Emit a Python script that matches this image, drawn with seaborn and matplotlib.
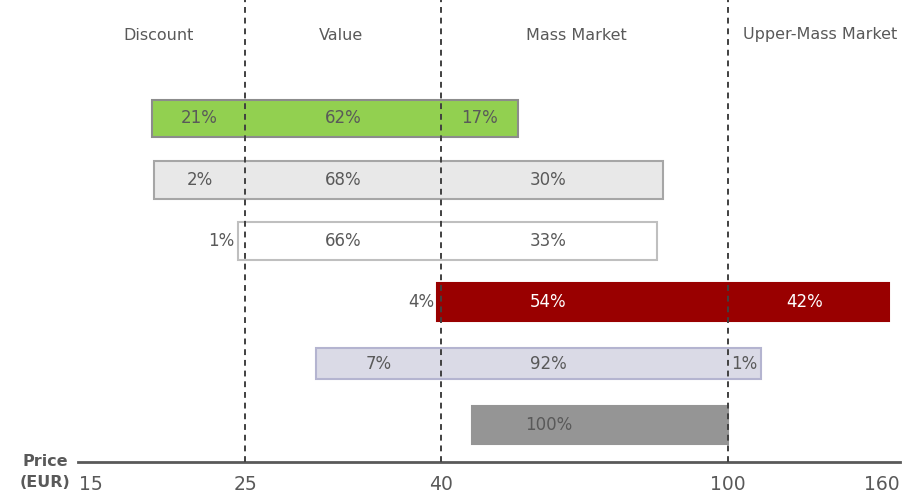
import numpy as np
import matplotlib
matplotlib.use("Agg")
import matplotlib.pyplot as plt
import matplotlib.transforms as mtransforms
import seaborn as sns

# price bands
band_names = ["Discount", "Value", "Mass Market", "Upper-Mass Market"]
band_edges = [15, 25, 40, 100, 160]
tick_labels = ["15", "25", "40", "100", "160"]

# price range of each bar (EUR), top to bottom
bar_start = [19.0, 19.1, 24.5, 39.7, 30.4, 46.5]
bar_end = [56.1, 86.4, 85.2, 162.7, 112.9, 100.0]

# share of each bar falling in each band (%)
discount_share = [21, 2, 1, np.nan, np.nan, np.nan]
value_share = [62, 68, 66, 4, 7, np.nan]
mass_share = [17, 30, 33, 54, 92, 100]
upper_share = [np.nan, np.nan, np.nan, 42, 1, np.nan]

bar_fill = ["#92d050", "#e8e8e8", "#ffffff", "#990000", "#dadae6", "#959595"]
bar_edge = ["#8c8c8c", "#a6a6a6", "#bfbfbf", "#990000", "#b4b4d0", "#959595"]
text_col = ["#595959", "#595959", "#595959", "#ffffff", "#595959", "#595959"]

# the axis is not linear: widths of the price bands on the page
band_pos = [0, 155, 351, 638, 792]


def _pw(x, src, dst):
    x = np.asarray(x, dtype=float)
    y = np.interp(x, src, dst)
    lo = dst[0] + (x - src[0]) * (dst[1] - dst[0]) / (src[1] - src[0])
    hi = dst[-1] + (x - src[-1]) * (dst[-1] - dst[-2]) / (src[-1] - src[-2])
    y = np.where(x < src[0], lo, y)
    y = np.where(x > src[-1], hi, y)
    return y


def fwd(x):
    return _pw(x, band_edges, band_pos)


def inv(x):
    return _pw(x, band_pos, band_edges)


sns.set_style("white")
plt.rcParams["font.family"] = ["DejaVu Sans"]

fig = plt.figure(figsize=(9.17, 4.93), dpi=100)
ax = fig.add_axes([78 / 917, 31 / 493, 822 / 917, 462 / 493])
ax.set_xscale("function", functions=(fwd, inv))
ax.set_xlim(14.2, 167)
ax.set_ylim(5.607, -1.934)

rows = np.arange(len(bar_start))
heights = [0.6, 0.62, 0.63, 0.62, 0.52, 0.62]
ax.barh(rows, np.array(bar_end) - np.array(bar_start), left=bar_start,
        height=heights, color=bar_fill, edgecolor=bar_edge, linewidth=1.5, zorder=2)

# segment labels
shares = [discount_share, value_share, mass_share, upper_share]
mass_anchor = 62.4
for i in rows:
    for b in range(4):
        val = shares[b][i]
        if np.isnan(val):
            continue
        lo = max(band_edges[b], bar_start[i])
        hi = min(band_edges[b + 1], bar_end[i])
        w = float(fwd(hi) - fwd(lo))
        if w < 15:
            x = inv(fwd(bar_start[i]) - 3)
            ax.text(x, i, f"{val:.0f}%", ha="right", va="center",
                    fontsize=12, color="#595959", zorder=4)
            continue
        mid = (fwd(lo) + fwd(hi)) / 2
        if b == 2:
            mid = min(mid, fwd(mass_anchor))
        ax.text(inv(mid), i, f"{val:.0f}%", ha="center", va="center",
                fontsize=12, color=text_col[i], zorder=4)

# band borders
for e in band_edges[1:4]:
    ax.axvline(e, color="#404040", linestyle=(0, (3, 2.5)), linewidth=1.4, zorder=3)

# band names on top
trans = mtransforms.blended_transform_factory(ax.transData, ax.transAxes)
name_x = [19.4, 32.3, 68.2, 135.8]
for nm, x in zip(band_names, name_x):
    ax.text(x, 1 - 35 / 462, nm, transform=trans, ha="center", va="center",
            fontsize=11.5, color="#595959")

sns.despine(ax=ax, left=True, top=True, right=True)
ax.spines["bottom"].set_color("#595959")
ax.spines["bottom"].set_linewidth(2)
ax.set_yticks([])
ax.set_xticks(band_edges)
ax.set_xticklabels(tick_labels)
ax.xaxis.set_minor_locator(matplotlib.ticker.NullLocator())
ax.tick_params(axis="x", length=0, pad=9, labelsize=13.5, labelcolor="#595959")

fig.text(45 / 917, 1 - 472 / 493, "Price\n(EUR)", ha="center", va="center",
         fontsize=11.5, fontweight="bold", color="#595959", linespacing=1.45)

fig.savefig("out.png", dpi=100)
